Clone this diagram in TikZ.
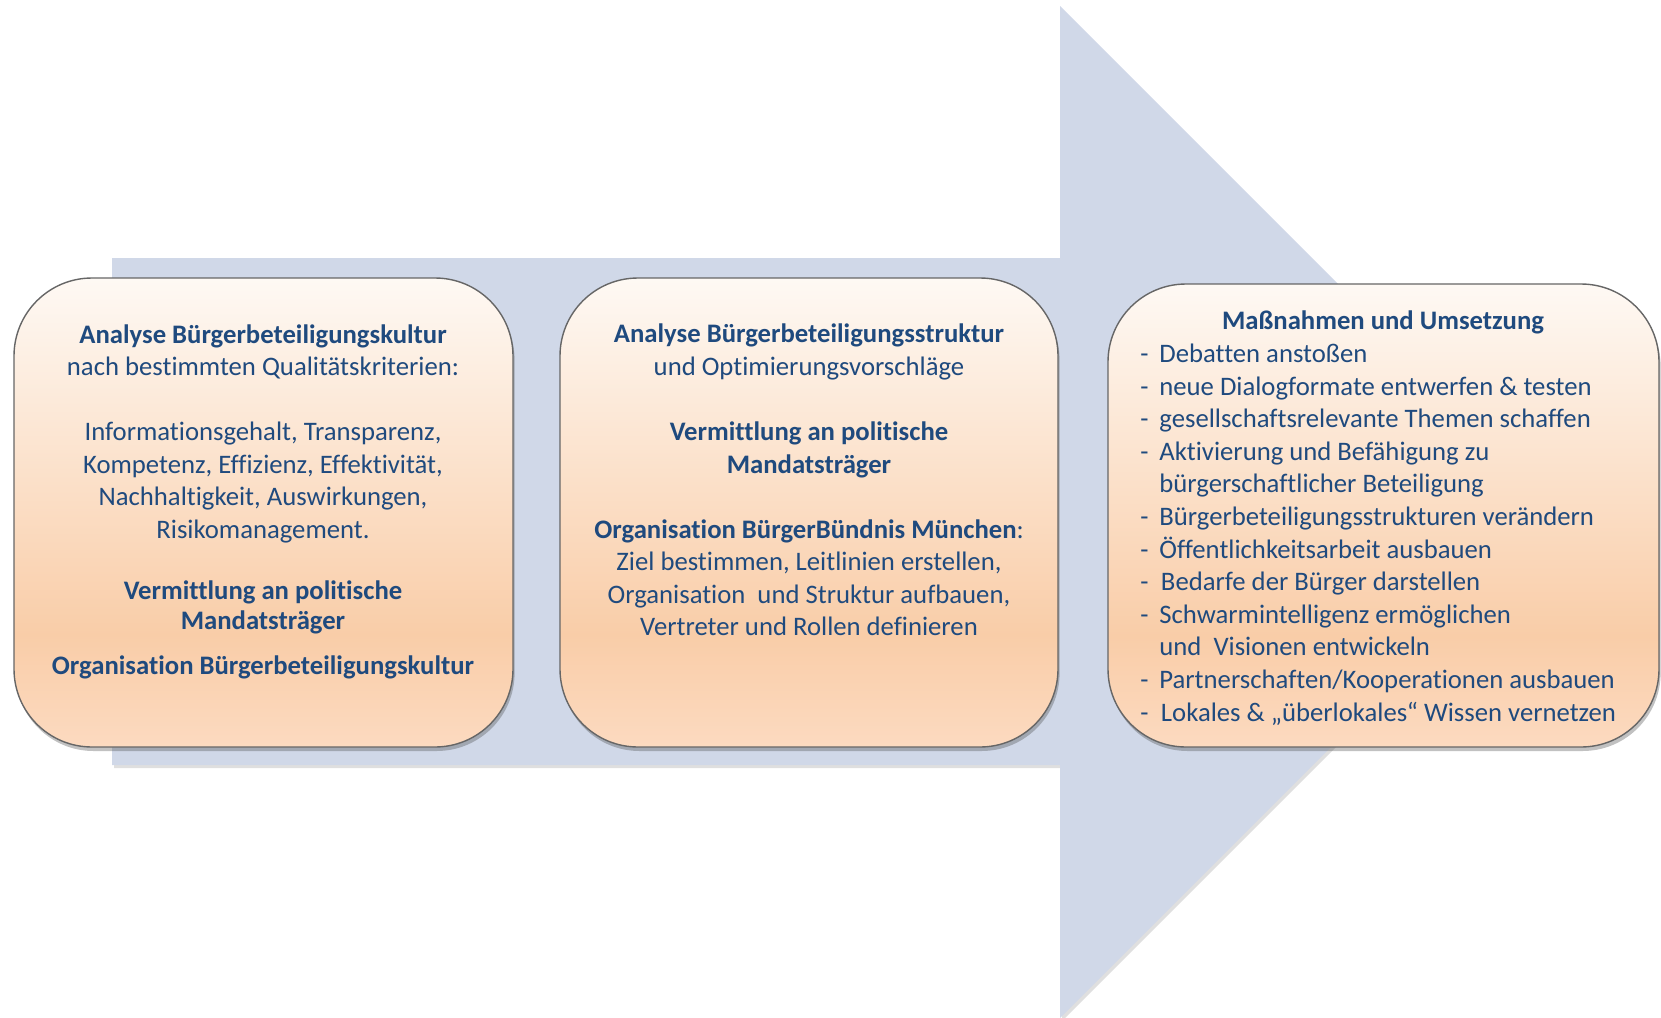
\documentclass[tikz,border=0pt]{standalone}
\usepackage{fontspec}
\setmainfont[Ligatures={NoCommon}]{Carlito}
\usetikzlibrary{shadows}
\definecolor{txt}{HTML}{1F4A7E}
\definecolor{arrowfill}{HTML}{D0D8E8}
\definecolor{ptop}{HTML}{FEF9F4}
\definecolor{pmid}{HTML}{F9CDA8}
\definecolor{pbot}{HTML}{FCDAC0}
\pgfdeclareverticalshading{peachgrad}{100bp}{color(0bp)=(pbot); color(25bp)=(pbot); color(37bp)=(pmid); color(75bp)=(ptop); color(100bp)=(ptop)}
\newcommand\itemdash{\makebox[9.5pt][l]{-}}
\newcommand\itemgap{\hspace*{9.5pt}}
\begin{document}
\begin{tikzpicture}[x=0.5pt,y=-0.5pt,
  stage/.style={draw=black!60, line width=0.7pt, rounded corners=39pt, shading=peachgrad,
    drop shadow={shadow xshift=0.8pt, shadow yshift=-2pt, opacity=0.35, fill=black!70}},
  ln/.style={anchor=base, inner sep=0pt, text=txt, font=\fontsize{13.35}{16}\selectfont},
  lnb/.style={ln, font=\fontsize{13.35}{16}\selectfont\bfseries},
  li/.style={ln, anchor=base west}]
\useasboundingbox (0,0) rectangle (1661,1018);
% big arrow
\path[fill=arrowfill, drop shadow={shadow xshift=1pt, shadow yshift=-1.5pt, opacity=0.25}]
  (112,258) -- (1060,258) -- (1060,6) -- (1566,512) -- (1060,1018) -- (1060,765) -- (112,765) -- cycle;
% boxes
\node[stage, minimum width=249.5pt, minimum height=234.5pt] (b1) at (263.5,512.5) {};
\node[stage, minimum width=249pt, minimum height=234.5pt] (b2) at (809,512.5) {};
\node[stage, minimum width=275.5pt, minimum height=231.5pt] (b3) at (1383.5,515.5) {};
% box 1 text
\node[lnb] (t1a) at (263,343.5) {Analyse Bürgerbeteiligungskultur};
\node[ln]  (t1b) at (263,375) {nach bestimmten Qualitätskriterien:};
\node[ln]  (t1c) at (263,440.5) {Informationsgehalt, Transparenz,};
\node[ln]  (t1d) at (263,473.5) {Kompetenz, Effizienz, Effektivität,};
\node[ln]  (t1e) at (263,505.5) {Nachhaltigkeit, Auswirkungen,};
\node[ln]  (t1f) at (263,538.5) {Risikomanagement.};
\node[lnb] (t1g) at (263,599.5) {Vermittlung an politische};
\node[lnb] (t1h) at (263,629.5) {Mandatsträger};
\node[lnb] (t1i) at (263,674.5) {Organisation Bürgerbeteiligungskultur};
% box 2 text
\node[lnb] (t2a) at (809,342.5) {Analyse Bürgerbeteiligungsstruktur};
\node[ln]  (t2b) at (809,375) {und Optimierungsvorschläge};
\node[lnb] (t2c) at (809,440.5) {Vermittlung an politische};
\node[lnb] (t2d) at (809,473.5) {Mandatsträger};
\node[ln]  (t2e) at (809,538.5) {\textbf{Organisation BürgerBündnis München}:};
\node[ln]  (t2f) at (809,570.5) {Ziel bestimmen, Leitlinien erstellen,};
\node[ln]  (t2g) at (809,603.5) {Organisation\ \ und Struktur aufbauen,};
\node[ln]  (t2h) at (809,635.5) {Vertreter und Rollen definieren};
% box 3 text
\node[lnb] (t3a) at (1383,329.5) {Maßnahmen und Umsetzung};
\node[li] (t3b) at (1140,362.5) {\itemdash Debatten anstoßen};
\node[li] (t3c) at (1140,395.1) {\itemdash neue Dialogformate entwerfen \& testen};
\node[li] (t3d) at (1140,427.7) {\itemdash gesellschaftsrelevante Themen schaffen};
\node[li] (t3e) at (1140,460.3) {\itemdash Aktivierung und Befähigung zu};
\node[li] (t3f) at (1140,492.9) {\itemgap bürgerschaftlicher Beteiligung};
\node[li] (t3g) at (1140,525.5) {\itemdash Bürgerbeteiligungsstrukturen verändern};
\node[li] (t3h) at (1140,558.1) {\itemdash Öffentlichkeitsarbeit ausbauen};
\node[li] (t3i) at (1140,590.7) {\itemdash\hspace{0.8pt}Bedarfe der Bürger darstellen};
\node[li] (t3j) at (1140,623.3) {\itemdash Schwarmintelligenz ermöglichen};
\node[li] (t3k) at (1140,655.9) {\itemgap und\ \ Visionen entwickeln};
\node[li] (t3l) at (1140,688.5) {\itemdash Partnerschaften/Kooperationen ausbauen};
\node[li] (t3m) at (1140,721.1) {\itemdash\hspace{0.8pt}Lokales \& „überlokales“ Wissen vernetzen};
\end{tikzpicture}
\end{document}
